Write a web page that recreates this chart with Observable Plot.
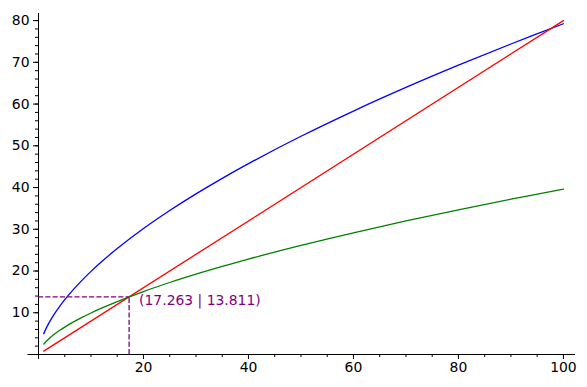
<!DOCTYPE html>
<html>
<head>
<meta charset="utf-8">
<script src="https://cdn.jsdelivr.net/npm/d3@7"></script>
<script src="https://cdn.jsdelivr.net/npm/@observablehq/plot@0.6"></script>
<style>
  html, body { margin: 0; padding: 0; background: #fff; }
  #chart svg { display: block; }
</style>
</head>
<body>
<div id="chart"></div>
<script>
// Sample x positions
const xs = [1, 1.5, 2, 3, 4, 5, 6, 8, 10, 12, 15, 20, 25, 30, 35, 40, 50, 60, 70, 80, 90, 100];
// Blue curve values
const blueY = [5.0, 6.38, 7.58, 9.67, 11.49, 13.13, 14.65, 17.41, 19.91, 22.21, 25.39, 30.17, 34.49, 38.48, 42.21, 45.73, 52.28, 58.33, 63.98, 69.31, 74.39, 79.24];
// Green curve values
const greenY = [2.5, 3.19, 3.79, 4.83, 5.74, 6.57, 7.33, 8.71, 9.95, 11.10, 12.69, 15.09, 17.25, 19.24, 21.10, 22.87, 26.14, 29.16, 31.99, 34.66, 37.20, 39.62];
// Red straight line endpoints
const redX = [1, 100];
const redY = [0.8, 80];
// Marked intersection
const ix = 17.263, iy = 13.811;
const label = "(17.263 | 13.811)";
// Tick values
const xMajor = [0, 20, 40, 60, 80, 100];
const yMajor = [10, 20, 30, 40, 50, 60, 70, 80];

const blue = xs.map((x, i) => ({x, y: blueY[i]}));
const green = xs.map((x, i) => ({x, y: greenY[i]}));
const red = redX.map((x, i) => ({x, y: redY[i]}));

const lw = 1.3;
const chart = Plot.plot({
  width: 587,
  height: 387,
  marginLeft: 38,
  marginRight: 12,
  marginTop: 13,
  marginBottom: 33,
  style: {fontFamily: "'DejaVu Sans', sans-serif", fontSize: "13.9px", color: "#000", background: "#fff"},
  x: {domain: [0, 102.3], label: null},
  y: {domain: [0, 81.7], label: null},
  marks: [
    // minor ticks
    Plot.axisX({ticks: d3.range(0, 101, 5), tickSize: 3, text: null, anchor: "bottom", label: null}),
    Plot.axisX({ticks: xMajor, tickSize: 5, tickPadding: 3, anchor: "bottom", label: null,
                tickFormat: d => d === 0 ? "" : String(d)}),
    Plot.axisY({ticks: d3.range(0, 82, 2), tickSize: 3, text: null, anchor: "left", label: null}),
    Plot.axisY({ticks: yMajor, tickSize: 5, tickPadding: 4, anchor: "left", label: null,
                tickFormat: d => String(d)}),
    // axis lines
    Plot.ruleY([0], {x1: -2, x2: 102.3, stroke: "#000", strokeWidth: 1}),
    Plot.ruleX([0], {y1: 0, y2: 81.7, stroke: "#000", strokeWidth: 1}),
    // curves
    Plot.line(blue, {x: "x", y: "y", stroke: "#0000ff", strokeWidth: lw, curve: "catmull-rom"}),
    Plot.line(red, {x: "x", y: "y", stroke: "#ff0000", strokeWidth: lw}),
    Plot.line(green, {x: "x", y: "y", stroke: "#008000", strokeWidth: lw, curve: "catmull-rom"}),
    // dashed guides
    Plot.ruleY([iy], {x1: 0, x2: ix, stroke: "#800080", strokeWidth: lw, strokeDasharray: "5.1,2.2"}),
    Plot.ruleX([ix], {y1: 0, y2: iy, stroke: "#800080", strokeWidth: lw, strokeDasharray: "5.1,2.2"}),
    Plot.text([label], {x: ix, y: iy, text: d => d, dx: 10, dy: 4, textAnchor: "start",
                        fill: "#800080", fontSize: 13.9})
  ]
});
document.getElementById("chart").appendChild(chart);
</script>
</body>
</html>
